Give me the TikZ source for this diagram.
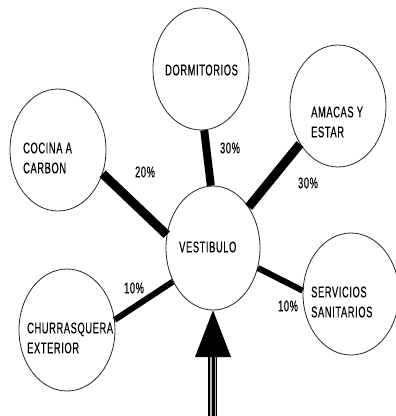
\documentclass[tikz,border=0pt]{standalone}
\usepackage{fontspec}
\setmainfont[FakeStretch=0.6,LetterSpace=4,FakeBold=0.3]{Liberation Sans}
\usetikzlibrary{shapes.geometric}
\begin{document}
\begin{tikzpicture}[x=1pt,y=-1pt,
  room/.style={draw=black!85, line width=0.8pt, ellipse, inner sep=0pt,
               minimum width=96pt, minimum height=122pt},
  lbl/.style={font=\fontsize{15.5}{20}\selectfont, inner sep=0pt, align=left, anchor=west},
  pct/.style={font=\fontsize{15.5}{16}\selectfont, inner sep=0pt},
  link/.style={line width=#1}]
\useasboundingbox[fill=white] (0,0) rectangle (396,416);
% rooms
\node[room] (dorm)   at (201,69)  {};
\node[room] (amacas) at (338,106) {};
\node[room] (cocina) at (58,150)  {};
\node[room, minimum width=94pt, minimum height=124pt] (vest) at (213,248) {};
\node[room] (churr)  at (67,330)  {};
\node[room] (serv)   at (351,294) {};
% labels
\node[lbl] (dormt)   at (165,70)  {DORMITORIOS};
\node[lbl] (amacast) at (311,122) {AMACAS Y\\ESTAR};
\node[lbl] (cocinat) at (23,158)  {COCINA A\\CARBON};
\node[lbl] (vestt)   at (179,247) {VESTIBULO};
\node[lbl] (churrt)  at (27,338)  {CHURRASQUERA\\EXTERIOR};
\node[lbl] (servt)   at (311,302) {SERVICIOS\\SANITARIOS};
% links
\draw[link=8pt] (dorm.-87) -- (vest.92);
\draw[link=9pt] (cocina.-28) -- (vest.164);
\draw[link=9pt] (amacas.225) -- (vest.49);
\draw[link=6pt] (churr.12) -- (vest.220);
\draw[link=6pt] (serv.176) -- (vest.-24);
% percentages
\node[pct] (p1) at (145,172) {20\%};
\node[pct] (p2) at (230,148) {30\%};
\node[pct] (p3) at (308,183) {30\%};
\node[pct] (p4) at (134,288) {10\%};
\node[pct] (p5) at (288,306) {10\%};
% entrance arrow
\coordinate (entry) at (212.5,416);
\coordinate (base) at (212.5,357);
\draw[line width=9pt] (entry) -- (base);
\draw[gray!55, line width=1.6pt] ([xshift=-1.8pt]entry) -- ([xshift=-1.8pt]base);
\draw[gray!55, line width=0.8pt] ([xshift=2.6pt]entry) -- ([xshift=2.6pt]base);
\fill ([xshift=-17.5pt]base) -- (vest.south) -- ([xshift=18.5pt]base) -- cycle;
\end{tikzpicture}
\end{document}
